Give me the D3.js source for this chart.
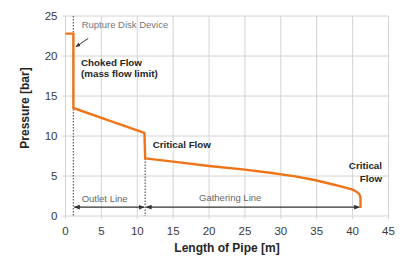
<!DOCTYPE html>
<html>
<head>
<meta charset="utf-8">
<script src="https://cdn.jsdelivr.net/npm/d3@7"></script>
<style>
body { margin: 0; background: #fff; }
svg { font-family: "Liberation Sans", Arial, sans-serif; }
</style>
</head>
<body>
<div id="chart"></div>
<script>
// pressure along the pipe [m, bar]
var pipeLength = [0, 1.1, 1.1, 6, 11, 11.1, 15, 20, 25, 28.5, 32, 34.7, 37, 38.5, 40, 40.6, 40.95, 41.1, 41.1];
var pressure = [22.8, 22.8, 13.5, 11.95, 10.4, 7.2, 6.8, 6.25, 5.8, 5.4, 4.95, 4.5, 4.0, 3.67, 3.3, 3.0, 2.7, 2.3, 1.0];

var xTicks = [0, 5, 10, 15, 20, 25, 30, 35, 40, 45];
var yTicks = [0, 5, 10, 15, 20, 25];

// section boundaries: rupture disk, end of outlet line, end of gathering line
var sectionEdges = [1.1, 11.1, 41.1];
var sectionTops = [25, 7.2];
var sectionNames = ["Outlet Line", "Gathering Line"];
var dimLevel = 1.1;

var WIDTH = 401, HEIGHT = 258;
var margin = { top: 16, right: 12.5, bottom: 42, left: 65.5 };
var plotW = WIDTH - margin.left - margin.right;
var plotH = HEIGHT - margin.top - margin.bottom;

var svg = d3.select("#chart").append("svg")
	.attr("width", WIDTH)
	.attr("height", HEIGHT);

var defs = svg.append("defs");
defs.append("marker")
	.attr("id", "arr")
	.attr("viewBox", "0 0 10 10")
	.attr("refX", 9).attr("refY", 5)
	.attr("markerWidth", 5).attr("markerHeight", 5)
	.attr("orient", "auto-start-reverse")
	.append("path")
	.attr("d", "M0,1 L10,5 L0,9 Z")
	.attr("fill", "#333");

var g = svg.append("g")
	.attr("transform", `translate(${margin.left},${margin.top})`);

var x = d3.scaleLinear().domain([0, 45]).range([0, plotW]);
var y = d3.scaleLinear().domain([0, 25]).range([plotH, 0]);

// grid
g.selectAll(".vgrid")
	.data(xTicks)
	.join("line")
	.attr("class", "vgrid")
	.attr("x1", d => x(d)).attr("x2", d => x(d))
	.attr("y1", 0).attr("y2", plotH + 3)
	.attr("stroke", "#d4d4d4")
	.attr("stroke-width", 1);

g.selectAll(".hgrid")
	.data(yTicks)
	.join("line")
	.attr("class", "hgrid")
	.attr("x1", -3).attr("x2", plotW)
	.attr("y1", d => y(d)).attr("y2", d => y(d))
	.attr("stroke", "#d4d4d4")
	.attr("stroke-width", 1);

// tick labels
g.selectAll(".xlab")
	.data(xTicks)
	.join("text")
	.attr("class", "xlab")
	.attr("x", d => x(d))
	.attr("y", plotH + 19)
	.attr("text-anchor", "middle")
	.style("font-size", "11.5px")
	.attr("fill", "#3a3a3a")
	.text(d => d);

g.selectAll(".ylab")
	.data(yTicks)
	.join("text")
	.attr("class", "ylab")
	.attr("x", -8)
	.attr("y", d => y(d))
	.attr("dy", "0.36em")
	.attr("text-anchor", "end")
	.style("font-size", "11.5px")
	.attr("fill", "#3a3a3a")
	.text(d => d);

svg.append("text")
	.attr("x", margin.left + plotW / 2)
	.attr("y", 252)
	.attr("text-anchor", "middle")
	.style("font-size", "12px")
	.style("font-weight", "bold")
	.attr("fill", "#262626")
	.text("Length of Pipe [m]");

svg.append("text")
	.attr("transform", "rotate(-90)")
	.attr("x", -108)
	.attr("y", 29)
	.attr("text-anchor", "middle")
	.style("font-size", "12px")
	.style("font-weight", "bold")
	.attr("fill", "#262626")
	.text("Pressure [bar]");

// dotted section lines
g.selectAll(".sect")
	.data(sectionTops)
	.join("line")
	.attr("class", "sect")
	.attr("x1", (d, i) => x(sectionEdges[i])).attr("x2", (d, i) => x(sectionEdges[i]))
	.attr("y1", d => y(d)).attr("y2", plotH)
	.attr("stroke", "#666")
	.attr("stroke-width", 1.3)
	.attr("stroke-dasharray", "1.5,1.5");

// dimension arrows
var spans = sectionNames.map((n, i) => ({ name: n, a: sectionEdges[i], b: sectionEdges[i + 1] }));
g.selectAll(".dim")
	.data(spans)
	.join("line")
	.attr("class", "dim")
	.attr("x1", d => x(d.a) + 1).attr("x2", d => x(d.b) - 1)
	.attr("y1", y(dimLevel)).attr("y2", y(dimLevel))
	.attr("stroke", "#333")
	.attr("stroke-width", 1.2)
	.attr("marker-start", "url(#arr)")
	.attr("marker-end", "url(#arr)");

g.append("text")
	.attr("x", x(2.25)).attr("y", y(1.8))
	.style("font-size", "9.5px").attr("fill", "#666")
	.text("Outlet Line");

g.append("text")
	.attr("x", x(18.6)).attr("y", y(1.9))
	.style("font-size", "9.5px").attr("fill", "#666")
	.text("Gathering Line");

// pressure curve
var line = d3.line()
	.x((d, i) => x(pipeLength[i]))
	.y(d => y(d));

g.append("path")
	.datum(pressure)
	.attr("d", line)
	.attr("fill", "none")
	.attr("stroke", "#ef7417")
	.attr("stroke-width", 2.4)
	.attr("stroke-linejoin", "round");

// annotations
g.append("text")
	.attr("x", x(2.25)).attr("y", y(23.5))
	.style("font-size", "9.5px").attr("fill", "#777")
	.text("Rupture Disk Device");

g.append("line")
	.attr("x1", x(3.17)).attr("y1", y(22.2))
	.attr("x2", x(1.45)).attr("y2", y(21.15))
	.attr("stroke", "#333")
	.attr("stroke-width", 1)
	.attr("marker-end", "url(#arr)");

var choked = g.append("text")
	.attr("x", x(2.16)).attr("y", y(18.75))
	.style("font-size", "9.8px").style("font-weight", "bold").attr("fill", "#262626");
choked.append("tspan").text("Choked Flow");
choked.append("tspan").attr("x", x(2.16)).attr("dy", 10.7).text("(mass flow limit)");

g.append("text")
	.attr("x", x(12.15)).attr("y", y(8.46))
	.style("font-size", "9.8px").style("font-weight", "bold").attr("fill", "#262626")
	.text("Critical Flow");

var crit = g.append("text")
	.attr("x", x(44.1)).attr("y", y(5.84))
	.attr("text-anchor", "end")
	.style("font-size", "9.8px").style("font-weight", "bold").attr("fill", "#262626");
crit.append("tspan").text("Critical");
crit.append("tspan").attr("x", x(44.1)).attr("dy", 12.4).text("Flow");
</script>
</body>
</html>
